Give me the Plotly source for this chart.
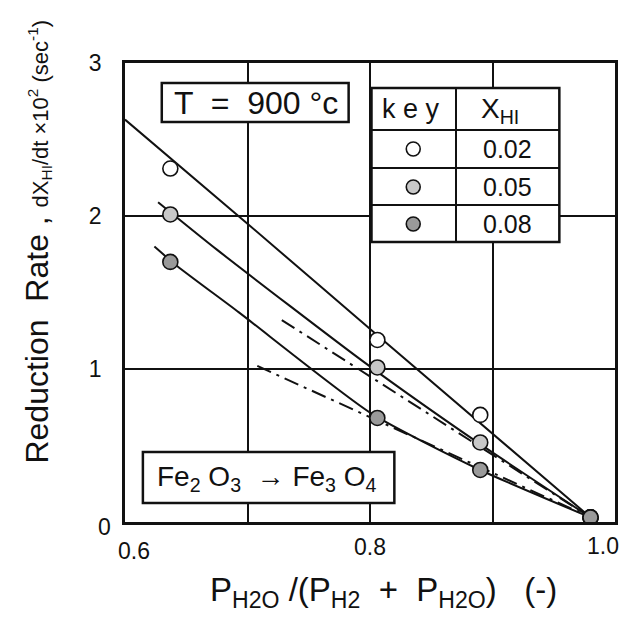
import plotly.graph_objects as go

# measured points (x = P_H2O/(P_H2+P_H2O), y = rate x 10^2)
x_pts = [0.637, 0.806, 0.890, 0.980]
y_002 = [2.31, 1.19, 0.70, 0.03]
y_005 = [2.01, 1.01, 0.52, 0.03]
y_008 = [1.70, 0.68, 0.34, 0.03]

# hand-drawn curves
fit002_x = [0.600, 0.700, 0.806, 0.980]
fit002_y = [2.63, 1.95, 1.22, 0.03]
fit005_x = [0.627, 0.675, 0.796, 0.886, 0.980]
fit005_y = [2.09, 1.78, 1.04, 0.53, 0.03]
fit008_x = [0.624, 0.643, 0.693, 0.801, 0.890, 0.980]
fit008_y = [1.80, 1.67, 1.37, 0.71, 0.34, 0.03]

# dash-dot lines
dashA_x = [0.728, 0.980]
dashA_y = [1.32, 0.03]
dashB_x = [0.708, 0.980]
dashB_y = [1.02, 0.03]

x_ticks = [0.6, 0.7, 0.8, 0.9, 1.0]
x_ticktext = ["", "", "0.8", "", ""]
y_ticks = [0, 1, 2, 3]
y_ticktext = ["", "1", "2", "3"]

keys = ["0.02", "0.05", "0.08"]
fills = ["white", "#c8c8c8", "#9a9a9a"]

FONT = "Liberation Sans"
INK = "#111111"

# page body margin shifts the figure by 8px
OFF = 8
W, H = 633 - 2 * OFF, 624 - 2 * OFF
# plot area in reference (screen) pixels
L, R, T, B = 125, 618, 63, 522


def px(x):
    return (x - L) / (R - L)


def py(y):
    return (B - y) / (B - T)


fig = go.Figure()

for fx, fy in [(fit002_x, fit002_y), (fit005_x, fit005_y), (fit008_x, fit008_y)]:
    fig.add_trace(go.Scatter(x=fx, y=fy, mode="lines", line=dict(color=INK, width=2, shape="spline", smoothing=0.6),
                             hoverinfo="skip"))

for dx, dy in [(dashA_x, dashA_y), (dashB_x, dashB_y)]:
    fig.add_trace(go.Scatter(x=dx, y=dy, mode="lines", line=dict(color=INK, width=2, dash="longdashdot"),
                             hoverinfo="skip"))

for ys, fc, k in zip([y_002, y_005, y_008], fills, keys):
    fig.add_trace(go.Scatter(x=x_pts, y=ys, mode="markers", name=k,
                             marker=dict(symbol="circle", size=15, color=fc, line=dict(color=INK, width=1.6))))

shapes = []
box = dict(type="rect", xref="paper", yref="paper", line=dict(color=INK, width=2.5), layer="above")
# T = 900 box
shapes.append(dict(box, x0=px(162), x1=px(350), y0=py(122), y1=py(83), fillcolor="white"))
# Fe2O3 box
shapes.append(dict(box, x0=px(143), x1=px(396), y0=py(503), y1=py(452), fillcolor="white"))
# key table
tl, tr, tt, tb, tm = 373, 562, 88, 242, 458
shapes.append(dict(box, x0=px(tl), x1=px(tr), y0=py(tb), y1=py(tt), fillcolor="white"))
ln = dict(type="line", xref="paper", yref="paper", line=dict(color=INK, width=2), layer="above")
shapes.append(dict(ln, x0=px(tm), x1=px(tm), y0=py(tb), y1=py(tt)))
row_y = [130, 168, 205]
for ry in row_y:
    shapes.append(dict(ln, x0=px(tl), x1=px(tr), y0=py(ry), y1=py(ry)))
row_c = [149, 187, 224]
for cy, fc in zip(row_c, fills):
    shapes.append(dict(type="circle", xref="paper", yref="paper", layer="above",
                       x0=px(415 - 7), x1=px(415 + 7), y0=py(cy + 7), y1=py(cy - 7),
                       fillcolor=fc, line=dict(color=INK, width=1.6)))

ann = []
tf = dict(family=FONT, color=INK)
ann.append(dict(x=px(257), y=py(103), text="T  =  900 °c", font=dict(tf, size=32)))
ann.append(dict(x=px(268), y=py(478),
                text="Fe<sub>2</sub> O<sub>3</sub>  → Fe<sub>3</sub> O<sub>4</sub>", font=dict(tf, size=28)))
ann.append(dict(x=px(413), y=py(109), text="k e y", font=dict(tf, size=27)))
ann.append(dict(x=px(502), y=py(110), text="X<sub>HI</sub>", font=dict(tf, size=28)))
for cy, k in zip(row_c, keys):
    ann.append(dict(x=px(510), y=py(cy), text=k, font=dict(tf, size=25)))
# offset tick labels
ann.append(dict(x=px(134), y=py(551), text="0.6", font=dict(tf, size=23)))
ann.append(dict(x=px(104), y=py(527), text="0", font=dict(tf, size=23)))
ann.append(dict(x=px(624), y=py(546), text="1.0", font=dict(tf, size=23), xanchor="right"))
# axis titles
ann.append(dict(x=px(36), y=py(242), textangle=-90,
                text='<span style="font-size:32px">Reduction  Rate ,</span> '
                     '<span style="font-size:22px">dX<sub>HI</sub>/dt ×10<sup>2</sup> (sec<sup>-1</sup>)</span>',
                font=dict(tf, size=32)))
ann.append(dict(x=px(385), y=py(592),
                text="P<sub>H2O</sub> /(P<sub>H2</sub>  +  P<sub>H2O</sub>)   (-)", font=dict(tf, size=33)))
for a in ann:
    a.setdefault("xanchor", "center")
    a.update(xref="paper", yref="paper", showarrow=False, yanchor="middle")

fig.update_layout(
    width=W, height=H,
    margin=dict(l=L - OFF, r=W - (R - OFF), t=T - OFF, b=H - (B - OFF), pad=0),
    paper_bgcolor="white", plot_bgcolor="white",
    showlegend=False,
    font=dict(family=FONT, color=INK, size=23),
    shapes=shapes, annotations=ann,
    xaxis=dict(range=[0.6, 1.0], tickvals=x_ticks, ticktext=x_ticktext, showgrid=True,
               gridcolor=INK, gridwidth=1.8, showline=True, linecolor=INK, linewidth=2.5,
               mirror=True, ticks="", zeroline=False, ticklabelstandoff=3,
               tickfont=dict(family=FONT, size=23)),
    yaxis=dict(range=[0, 3], tickvals=y_ticks, ticktext=y_ticktext, showgrid=True,
               gridcolor=INK, gridwidth=1.8, showline=True, linecolor=INK, linewidth=2.5,
               mirror=True, ticks="", zeroline=False, ticklabelstandoff=16,
               tickfont=dict(family=FONT, size=23)),
)

fig.write_html("out.html")
